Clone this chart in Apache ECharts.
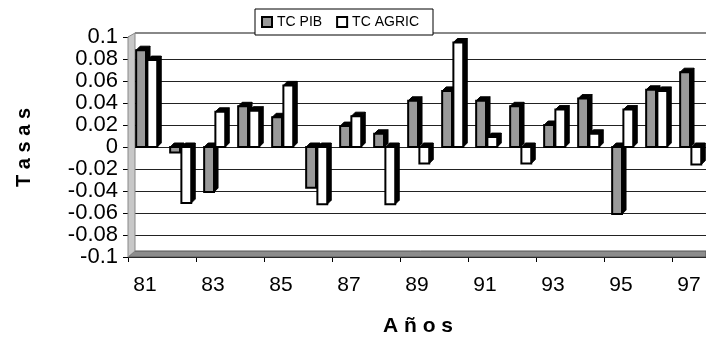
<!DOCTYPE html>
<html>
<head>
<meta charset="utf-8">
<script src="https://cdn.jsdelivr.net/npm/echarts@6/dist/echarts.min.js"></script>
<style>
html,body{margin:0;padding:0;background:#fff;}
#c{width:706px;height:337px;}
</style>
</head>
<body>
<div id="c"></div>
<script>
var years = ['81','82','83','84','85','86','87','88','89','90','91','92','93','94','95','96','97'];
var tcPib = [0.088, -0.005, -0.041, 0.037, 0.027, -0.037, 0.019, 0.012, 0.042, 0.051, 0.042, 0.037, 0.020, 0.044, -0.061, 0.052, 0.068];
var tcAgric = [0.079, -0.051, 0.032, 0.033, 0.056, -0.052, 0.028, -0.052, -0.015, 0.095, 0.009, -0.015, 0.034, 0.012, 0.034, 0.051, -0.016];
var seriesNames = ['TC PIB', 'TC AGRIC'];
var yTitle = 'T a s a s';
var xTitle = 'A ñ o s';

var chart = echarts.init(document.getElementById('c'), null, {renderer: 'canvas'});
var FONT = '"Liberation Sans", Arial, sans-serif';

// 3D-looking bar drawn from the axis scales
function makeRender(offsetFrac, fill) {
  return function (params, api) {
    var idx = api.value(0);
    var val = api.value(1);
    var c = api.coord([idx, val]);
    var b = api.coord([idx, 0]);
    var cat = api.size([1, 0])[0];
    var w = cat * 0.29;
    var x0 = c[0] + cat * offsetFrac;
    var yTop = Math.min(c[1], b[1]);
    var yBot = Math.max(c[1], b[1]);
    var h = Math.max(yBot - yTop, 1);
    var dx = 4, dy = 4;
    return {
      type: 'group',
      children: [
        {type: 'polygon', shape: {points: [[x0 + w, yTop], [x0 + w + dx, yTop - dy], [x0 + w + dx, yBot - dy], [x0 + w, yBot]]},
          style: {fill: '#000', stroke: '#000', lineWidth: 1}},
        {type: 'polygon', shape: {points: [[x0, yTop], [x0 + dx, yTop - dy], [x0 + w + dx, yTop - dy], [x0 + w, yTop]]},
          style: {fill: '#000', stroke: '#000', lineWidth: 1}},
        {type: 'rect', shape: {x: x0, y: yTop, width: w, height: h},
          style: {fill: fill, stroke: '#000', lineWidth: 2}}
      ]
    };
  };
}
var option = {
  animation: false,
  backgroundColor: '#fff',
  textStyle: {fontFamily: FONT},
  grid: {left: 128, right: 0, top: 37, bottom: 80, containLabel: false},
  legend: {
    left: 255, top: 9,
    padding: [6, 14, 6, 6],
    itemWidth: 10, itemHeight: 10, itemGap: 14,
    borderColor: '#000', borderWidth: 1,
    backgroundColor: '#fff',
    icon: 'rect',
    textStyle: {fontFamily: FONT, fontSize: 14, color: '#000'},
    itemStyle: {borderColor: '#000', borderWidth: 2},
    data: seriesNames
  },
  xAxis: {
    type: 'category',
    data: years,
    boundaryGap: true,
    axisLine: {onZero: false, lineStyle: {color: '#000', width: 1}},
    axisTick: {show: true, interval: 1, length: 5, lineStyle: {color: '#000'}},
    axisLabel: {interval: 1, fontFamily: FONT, fontSize: 21, color: '#000', margin: 18, align: 'center'},
    splitLine: {show: false}
  },
  yAxis: {
    type: 'value',
    min: -0.1, max: 0.1, interval: 0.02,
    axisLine: {show: true, lineStyle: {color: '#000'}},
    axisTick: {show: true, length: 5, lineStyle: {color: '#000'}},
    axisLabel: {fontFamily: FONT, fontSize: 22, color: '#000', margin: 10,
      formatter: function (v) { return String(+v.toFixed(2)); }},
    splitLine: {show: true, showMaxLine: false, lineStyle: {color: '#222222', width: 1, type: 'solid', opacity: 1}}
  },
  series: [
    {name: seriesNames[0], type: 'custom', renderItem: makeRender(-0.26, '#999999'), encode: {x: 0, y: 1},
      itemStyle: {color: '#999999', borderColor: '#000', borderWidth: 2},
      data: tcPib.map(function (v, i) { return [i, v]; })},
    {name: seriesNames[1], type: 'custom', renderItem: makeRender(0.07, '#ffffff'), encode: {x: 0, y: 1},
      itemStyle: {color: '#ffffff', borderColor: '#000', borderWidth: 2},
      data: tcAgric.map(function (v, i) { return [i, v]; })}
  ]
};
chart.setOption(option);

var p00 = chart.convertToPixel({xAxisIndex: 0, yAxisIndex: 0}, [0, -0.1]);
var pTop = chart.convertToPixel({yAxisIndex: 0}, 0.1);
var gridRight = 706;
var left = 128;
var floorY = p00[1];
var d = 6;
chart.setOption({
  graphic: [
    {type: 'polygon', z: 1, silent: true, shape: {points: [[left, floorY], [left + d + 1, floorY - d], [gridRight, floorY - d], [gridRight, floorY]]},
      style: {fill: '#8c8c8c', stroke: '#555', lineWidth: 1}},
    {type: 'polygon', z: 1, silent: true, shape: {points: [[left, floorY], [left, pTop], [left + d + 1, pTop - 4], [left + d + 1, floorY - d]]},
      style: {fill: '#c8c8c8', stroke: '#888', lineWidth: 1}},
    {type: 'line', z: 1, silent: true, shape: {x1: left + d + 1, y1: pTop - 4, x2: gridRight, y2: pTop - 4}, style: {stroke: '#888', lineWidth: 2}},
    {type: 'text', silent: true, left: 14, top: 108, rotation: Math.PI / 2,
      style: {text: yTitle, font: 'bold 20px ' + FONT, fill: '#000'}},
    {type: 'text', silent: true, style: {text: xTitle, font: 'bold 21px ' + FONT, fill: '#000', x: 418, y: 326, textAlign: 'center', textVerticalAlign: 'middle'}}
  ]
});
</script>
</body>
</html>
